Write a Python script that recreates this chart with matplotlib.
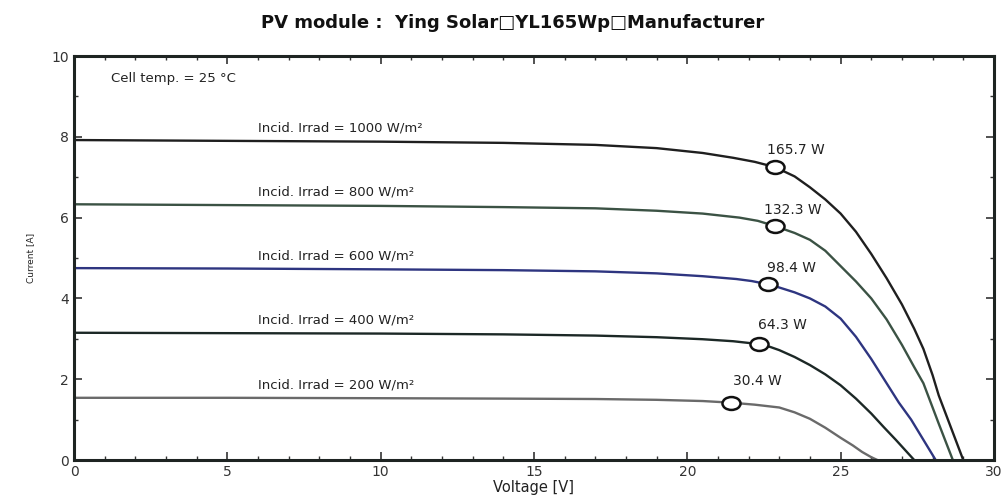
import matplotlib
matplotlib.use("Agg")
import matplotlib.pyplot as plt
from matplotlib.ticker import MultipleLocator
from matplotlib.path import Path
from matplotlib.transforms import Affine2D

plt.rcParams['font.family'] = ['DejaVu Sans']

# curves: voltage [V] / current [A]
v1000 = [0, 5, 10, 14, 17, 19, 20.5, 21.5, 22.2, 22.86, 23.5, 24, 24.5, 25, 25.5, 26, 26.5, 27, 27.4, 27.7, 28.0, 28.2, 28.6, 29.0]
i1000 = [7.92, 7.9, 7.88, 7.85, 7.8, 7.72, 7.6, 7.48, 7.38, 7.25, 7.02, 6.75, 6.45, 6.1, 5.65, 5.1, 4.5, 3.85, 3.25, 2.75, 2.1, 1.6, 0.8, 0.0]

v800 = [0, 5, 10, 14, 17, 19, 20.5, 21.7, 22.3, 22.86, 23.5, 24, 24.5, 25, 25.5, 26, 26.5, 27, 27.4, 27.7, 28.2, 28.66]
i800 = [6.33, 6.31, 6.29, 6.26, 6.23, 6.17, 6.1, 6.0, 5.92, 5.79, 5.62, 5.45, 5.18, 4.8, 4.42, 4.0, 3.48, 2.85, 2.3, 1.9, 0.9, 0.0]

v600 = [0, 5, 10, 14, 17, 19, 20.5, 21.6, 22.1, 22.63, 23.0, 23.5, 24, 24.5, 25, 25.5, 26, 26.5, 26.9, 27.3, 27.7, 28.1]
i600 = [4.75, 4.74, 4.72, 4.7, 4.67, 4.62, 4.55, 4.48, 4.43, 4.35, 4.27, 4.15, 4.0, 3.8, 3.5, 3.05, 2.5, 1.9, 1.42, 1.0, 0.5, 0.0]

v400 = [0, 5, 10, 14, 17, 19, 20.5, 21.5, 22.33, 22.7, 23, 23.5, 24, 24.5, 25, 25.5, 26, 26.4, 26.8, 27.1, 27.4]
i400 = [3.15, 3.14, 3.13, 3.11, 3.08, 3.04, 2.99, 2.94, 2.87, 2.8, 2.72, 2.55, 2.35, 2.12, 1.85, 1.52, 1.15, 0.82, 0.5, 0.25, 0.0]

v200 = [0, 5, 10, 14, 17, 19, 20.5, 21.42, 22.2, 23, 23.5, 24, 24.5, 25, 25.4, 25.7, 26.0, 26.2]
i200 = [1.54, 1.54, 1.53, 1.52, 1.51, 1.49, 1.46, 1.42, 1.37, 1.3, 1.18, 1.02, 0.8, 0.55, 0.36, 0.2, 0.07, 0.0]

# maximum power points
mpp_v = [22.86, 22.86, 22.63, 22.33, 21.42]
mpp_i = [7.25, 5.79, 4.35, 2.88, 1.42]
mpp_lbl = ["165.7 W", "132.3 W", "98.4 W", "64.3 W", "30.4 W"]
mpp_lbl_pos = [(22.6, 7.67), (22.5, 6.19), (22.6, 4.75), (22.3, 3.34), (21.5, 1.96)]

irr_lbl = ["Incid. Irrad = 1000 W/m\u00b2", "Incid. Irrad = 800 W/m\u00b2", "Incid. Irrad = 600 W/m\u00b2",
           "Incid. Irrad = 400 W/m\u00b2", "Incid. Irrad = 200 W/m\u00b2"]
irr_lbl_y = [8.22, 6.63, 5.05, 3.47, 1.86]

colors = ["#1f1f1f", "#3b5244", "#2e3580", "#1c2826", "#6a6a6a"]

curves = [(v1000, i1000), (v800, i800), (v600, i600), (v400, i400), (v200, i200)]

# flattened circle marker (the original picture is stretched sideways)
ellipse = Path.unit_circle().transformed(Affine2D().scale(1.4, 1.0))

fig = plt.figure(figsize=(10.06, 5.01), dpi=100)
ax = fig.add_axes([0.0736, 0.0818, 0.9144, 0.8064])

for (v, i), c in zip(curves, colors):
    ax.plot(v, i, color=c, lw=1.7, zorder=2)

for k in range(5):
    ax.plot(mpp_v[k], mpp_i[k], marker=ellipse, ms=13, mfc='white', mec='#111111', mew=1.8, zorder=3)
    ax.text(mpp_lbl_pos[k][0], mpp_lbl_pos[k][1], mpp_lbl[k], fontsize=10, color='#222222',
            va='center', ha='left')
    ax.text(6.0, irr_lbl_y[k], irr_lbl[k], fontsize=9.5, color='#222222', va='center', ha='left')

ax.text(1.2, 9.45, "Cell temp. = 25 \u00b0C", fontsize=9.5, color='#222222', va='center', ha='left')

ax.set_xlim(0, 30)
ax.set_ylim(0, 10)
ax.xaxis.set_major_locator(MultipleLocator(5))
ax.xaxis.set_minor_locator(MultipleLocator(1))
ax.yaxis.set_major_locator(MultipleLocator(2))
ax.yaxis.set_minor_locator(MultipleLocator(1))
ax.tick_params(which='both', direction='in', top=True, right=True, colors='#333333', labelsize=10)
ax.tick_params(which='major', length=6, width=1.2)
ax.tick_params(which='minor', length=3, width=1)
for s in ax.spines.values():
    s.set_linewidth(2.2)
    s.set_color('#1e2422')

ax.set_xlabel("Voltage [V]", fontsize=10.5, color='#222222', labelpad=1)
ax.set_ylabel("Current [A]", fontsize=6.5, color='#222222', labelpad=12)

fig.suptitle("PV module :  Ying Solar\u25a1YL165Wp\u25a1Manufacturer", fontsize=13, fontweight='bold',
             color='#111111', y=0.972, x=0.51)

fig.savefig("out.png", dpi=100)
plt.close(fig)
